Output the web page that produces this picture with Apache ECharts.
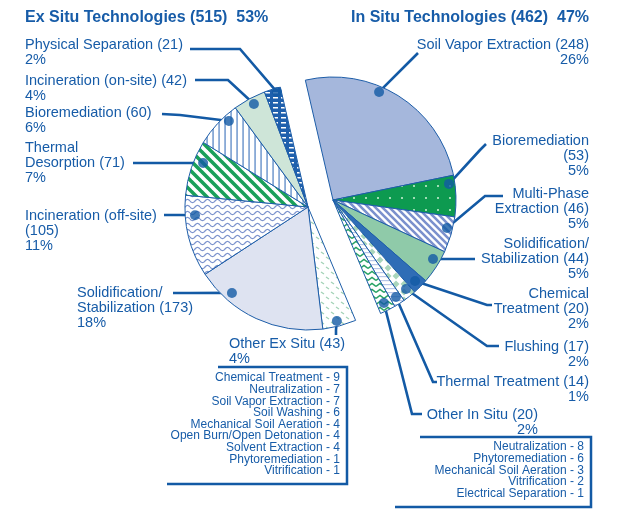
<!DOCTYPE html>
<html><head><meta charset="utf-8">
<script src="https://cdn.jsdelivr.net/npm/echarts@6/dist/echarts.min.js"></script>
<style>html,body{margin:0;padding:0;background:#fff}#c{width:625px;height:517px}</style>
</head><body><div id="c"></div>
<script>
// ---------- DATA ----------
const inSituNames = ['Soil Vapor Extraction','Bioremediation\n','Multi-Phase\nExtraction','Solidification/\nStabilization','Chemical\nTreatment','Flushing','Thermal Treatment','Other In Situ'];
const inSituValues = [248,53,46,44,20,17,14,20];
const inSituPct = [26,5,5,5,2,2,1,2];
const exSituNames = ['Other Ex Situ','Solidification/\nStabilization','Incineration (off-site)\n','Thermal\nDesorption','Bioremediation','Incineration (on-site)','Physical Separation'];
const exSituValues = [43,173,105,71,60,42,21];
const exSituPct = [4,18,11,7,6,4,2];
const otherExSitu = [['Chemical Treatment',9],['Neutralization',7],['Soil Vapor Extraction',7],['Soil Washing',6],['Mechanical Soil Aeration',4],['Open Burn/Open Detonation',4],['Solvent Extraction',4],['Phytoremediation',1],['Vitrification',1]];
const otherInSitu = [['Neutralization',8],['Phytoremediation',6],['Mechanical Soil Aeration',3],['Vitrification',2],['Electrical Separation',1]];

// ---------- LAYOUT / STYLE ----------
const BLUE = '#175ca8', LINE = '#135aa5', FONT = '"Liberation Sans", Arial, Helvetica, sans-serif';
const R = 123, C_IN = [333,200], C_EX = [308,207], START = 103;
const inLabelPos = [[589,37.5,'right'],[589,133.5,'right'],[589,186.5,'right'],[589,236.5,'right'],[589,286.5,'right'],[589,339.5,'right'],[589,374.5,'right'],[538,407.5,'right']];
const exLabelPos = [[229,336.5,'left'],[77,285.5,'left'],[25,208.5,'left'],[25,140.5,'left'],[25,105.5,'left'],[25,73.5,'left'],[25,37.5,'left']];
const inDot = [[0.395,0.955],[0.19,0.952],[0.35,0.954],[0.35,0.944],[0.48,0.937],[0.35,0.936],[0.45,0.94],[0.52,0.934]];
const exDot = [[0.54,0.956],[0.76,0.933],[0.75,0.921],[0.66,0.925],[0.71,0.95],[0.55,0.946],[0.73,0.968]];
const inLeader = [[[410,61],[418,53]],[[480,150],[486,144]],[[485,196],[503,196]],[[460,259],[475,259]],[[487,305],[492,305]],[[487,346],[499,346]],[[433,382],[437,382]],[[412,414],[422,414]]];
const exLeader = [[[336,330],[336,335]],[[190,293],[173,293]],[[180,215],[164,215]],[[150,163],[133,163]],[[180,115],[162,114]],[[228,80],[195,80]],[[240,49],[190,49]]];

function tile(w,h,draw){const c=document.createElement('canvas');c.width=w;c.height=h;const g=c.getContext('2d');draw(g,w,h);return {image:c,repeat:'repeat'};}
function fill(g,w,h,col){g.fillStyle=col;g.fillRect(0,0,w,h);}
function diag(bg,fg,p,lw){return tile(p,p,(g,w,h)=>{fill(g,w,h,bg);g.strokeStyle=fg;g.lineWidth=lw;g.beginPath();
  for(let k=-1;k<=1;k++){g.moveTo(k*p-1,-1);g.lineTo(k*p+p+1,p+1);}g.stroke();});}
const inStyles = [
  '#a5b7dc',
  tile(12,12,(g,w,h)=>{fill(g,w,h,'#0d9a50');g.fillStyle='#9fdcb4';g.fillRect(5,5,2,2);}),
  diag('#ffffff','#7b91cd',7,2.6),
  '#8fcaa9',
  '#2f6db6',
  tile(8,8,(g,w,h)=>{fill(g,w,h,'#ffffff');g.fillStyle='#a9d5bb';g.beginPath();g.moveTo(4,0.5);g.lineTo(7.5,4);g.lineTo(4,7.5);g.lineTo(0.5,4);g.closePath();g.fill();}),
  tile(4,4,(g,w,h)=>{fill(g,w,h,'#ffffff');g.fillStyle='#b9c7e8';g.fillRect(0,0,4,1.2);}),
  tile(8,6,(g,w,h)=>{fill(g,w,h,'#ffffff');g.strokeStyle='#27a264';g.lineWidth=1.5;g.beginPath();g.moveTo(0,4.5);g.lineTo(4,1.5);g.lineTo(8,4.5);g.stroke();})
];
const exStyles = [
  tile(10,10,(g,w,h)=>{fill(g,w,h,'#ffffff');g.strokeStyle='#a3d3b7';g.lineWidth=1.3;g.beginPath();g.moveTo(1,2);g.lineTo(4,4);g.moveTo(6,7);g.lineTo(9,9);g.stroke();}),
  '#dee3f1',
  tile(10,6,(g,w,h)=>{fill(g,w,h,'#ffffff');g.strokeStyle='#7b92cd';g.lineWidth=1.2;g.beginPath();
    for(let x=0;x<=10;x+=0.5){const y=3+1.6*Math.sin(x/10*2*Math.PI);if(x===0)g.moveTo(x,y);else g.lineTo(x,y);}g.stroke();}),
  diag('#ffffff','#1aa05a',10,3.6),
  tile(6,6,(g,w,h)=>{fill(g,w,h,'#ffffff');g.fillStyle='#3c72bb';g.fillRect(2.5,0,1.1,6);}),
  '#cee5d8',
  tile(8,5,(g,w,h)=>{fill(g,w,h,'#1f60ad');g.fillStyle='#ffffff';g.fillRect(1,2,5,1.5);})
];

// ---------- BUILD ----------
const inTotal = inSituValues.reduce((a,b)=>a+b,0);
const exTotal = exSituValues.reduce((a,b)=>a+b,0);
const TOTAL = inTotal + exTotal;
const allValues = inSituValues.concat(exSituValues);
const allDot = inDot.concat(exDot);
const cum = []; {let s=0; allValues.forEach(v=>{cum.push(s); s+=v;});}
function dotPx(i){
  const c = i < inSituValues.length ? C_IN : C_EX;
  const av = cum[i] + allDot[i][0]*allValues[i];
  const th = (90 - START + av*360/TOTAL) * Math.PI/180;
  const r = R*allDot[i][1];
  return [c[0] + r*Math.sin(th), c[1] - r*Math.cos(th)];
}
function labelText(name,v,p){return name + (name.endsWith('\n')?'':' ') + '(' + v + ')\n' + p + '%';}
const hidden = {itemStyle:{color:'rgba(0,0,0,0)',borderWidth:0},label:{show:false},labelLine:{show:false},emphasis:{disabled:true},tooltip:{show:false}};
const inData = inSituNames.map((n,i)=>({name:n,value:inSituValues[i],itemStyle:{color:inStyles[i]},label:{formatter:labelText(n,inSituValues[i],inSituPct[i])}}));
inData.push(Object.assign({name:'_ex',value:exTotal},hidden));
const exData = [Object.assign({name:'_in',value:inTotal},hidden)].concat(exSituNames.map((n,i)=>({name:n,value:exSituValues[i],itemStyle:{color:exStyles[i]},label:{formatter:labelText(n,exSituValues[i],exSituPct[i])}})));

function layoutFor(seriesIdx){
  return function(params){
    let gi, pos, lead;
    if(seriesIdx===0){ if(params.dataIndex>=inSituValues.length) return {}; gi=params.dataIndex; pos=inLabelPos[gi]; lead=inLeader[gi]; }
    else { if(params.dataIndex===0) return {}; const j=params.dataIndex-1; gi=inSituValues.length+j; pos=exLabelPos[j]; lead=exLeader[j]; }
    return {x:pos[0], y:pos[1], align:pos[2], verticalAlign:'top', labelLinePoints:[dotPx(gi), lead[0], lead[1]]};
  };
}
const pieCommon = {type:'pie', radius:[0,R], startAngle:START, clockwise:true, avoidLabelOverlap:false, silent:true,
  itemStyle:{borderColor:'#1d5da8',borderWidth:1},
  label:{show:true,position:'outside',color:BLUE,fontSize:14.5,lineHeight:15,fontFamily:FONT},
  labelLine:{show:true,length:5,length2:5,smooth:false,lineStyle:{color:LINE,width:2.6}}};

const dotsIn = inSituValues.map((v,i)=>[inDot[i][1], cum[i]+inDot[i][0]*v]);
const dotsEx = exSituValues.map((v,j)=>{const i=inSituValues.length+j; return [exDot[j][1], cum[i]+exDot[j][0]*v];});

const graphics = [];
graphics.push({type:'polyline',shape:{points:[[218,367],[347,367],[347,484],[167,484]]},style:{stroke:LINE,lineWidth:2.5,fill:null}});
graphics.push({type:'polyline',shape:{points:[[420,437],[591,437],[591,507],[395,507]]},style:{stroke:LINE,lineWidth:2.5,fill:null}});
otherExSitu.forEach((d,k)=>graphics.push({type:'text',style:{text:d[0]+' - '+d[1],x:340,y:378+k*11.6,textAlign:'right',textVerticalAlign:'middle',fill:BLUE,font:'12px '+FONT}}));
otherInSitu.forEach((d,k)=>graphics.push({type:'text',style:{text:d[0]+' - '+d[1],x:584,y:447+k*11.6,textAlign:'right',textVerticalAlign:'middle',fill:BLUE,font:'12px '+FONT}}));

const titleStyle = {fontSize:16,fontWeight:'bold',color:BLUE,fontFamily:FONT};
const option = {
  animation:false,
  title:[
    {text:'Ex Situ Technologies ('+exTotal+')  '+Math.round(exTotal/TOTAL*100)+'%',left:25,top:10,padding:0,textStyle:titleStyle},
    {text:'In Situ Technologies ('+inTotal+')  '+Math.round(inTotal/TOTAL*100)+'%',right:36,top:10,padding:0,textStyle:titleStyle}
  ],
  polar:[{center:C_IN,radius:R},{center:C_EX,radius:R}],
  angleAxis:[
    {polarIndex:0,type:'value',min:0,max:TOTAL,startAngle:START,clockwise:true,show:false},
    {polarIndex:1,type:'value',min:0,max:TOTAL,startAngle:START,clockwise:true,show:false}],
  radiusAxis:[{polarIndex:0,type:'value',min:0,max:1,show:false},{polarIndex:1,type:'value',min:0,max:1,show:false}],
  series:[
    Object.assign({},pieCommon,{center:C_IN,data:inData,labelLayout:layoutFor(0)}),
    Object.assign({},pieCommon,{center:C_EX,data:exData,labelLayout:layoutFor(1)}),
    {type:'scatter',coordinateSystem:'polar',polarIndex:0,data:dotsIn,symbolSize:10,itemStyle:{color:LINE},silent:true,z:5},
    {type:'scatter',coordinateSystem:'polar',polarIndex:1,data:dotsEx,symbolSize:10,itemStyle:{color:LINE},silent:true,z:5}
  ],
  graphic:graphics
};
const chart = echarts.init(document.getElementById('c'),null,{renderer:'canvas'});
chart.setOption(option);
</script></body></html>
